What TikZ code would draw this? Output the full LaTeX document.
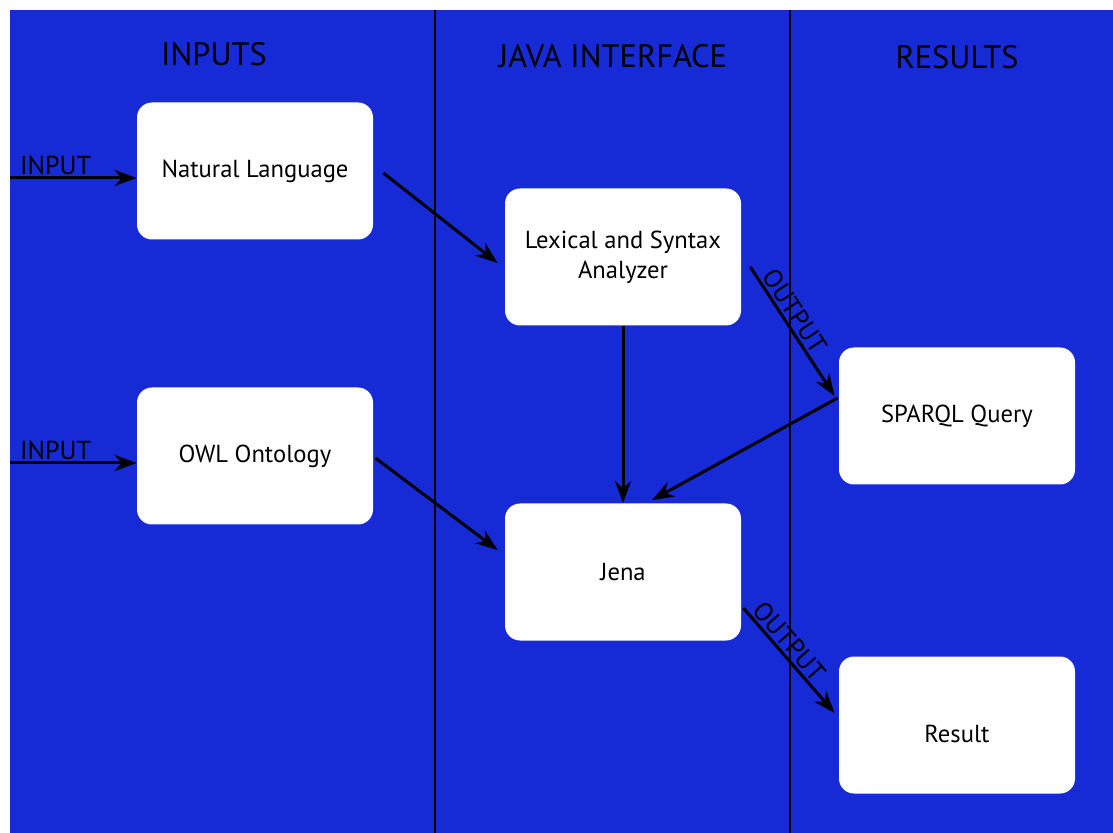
\documentclass[tikz,border=0pt]{standalone}
\usepackage{fontspec}
\setmainfont{PT Sans}
\usetikzlibrary{arrows.meta}
\definecolor{bgblue}{RGB}{22,42,214}

\begin{document}
\begin{tikzpicture}[x=0.5pt,y=-0.5pt,
  box/.style={draw=none,fill=white,rounded corners=7.5pt,minimum width=118pt,minimum height=68.5pt,inner sep=2pt,align=center,font=\fontsize{12.3}{15}\selectfont},
  arr/.style={line width=1.5pt,-{Stealth[length=11pt,width=8pt,inset=3.5pt]}},
  lbl/.style={inner sep=0.75pt,font=\fontsize{13}{14}\selectfont},
  ttl/.style={inner sep=0.75pt,font=\fontsize{16.2}{18}\selectfont}]

\useasboundingbox (0,0) rectangle (1113,833);
\fill [bgblue] (10,10) rectangle (1113,833);
\draw [line width=0.7pt]  (435,10) -- (435,833);
\draw [line width=0.7pt]  (790,10) -- (790,833);

% Titles
\node [ttl] (tin) at (214,54) {INPUTS};
\node [ttl] (tjava) at (613,56) {JAVA INTERFACE};
\node [ttl] (tres) at (957,57) {RESULTS};

% Boxes
\node [box] (nl) at (255,171) {Natural Language};
\node [box] (owl) at (255,456) {OWL Ontology};
\node [box] (lex) at (623,257) {Lexical and Syntax\\Analyzer};
\node [box] (jena) at (623,572) {Jena};
\node [box] (sparql) at (957,416) {SPARQL Query};
\node [box,text height=17.5pt] (res) at (957,725) {Result};

% Inputs
\coordinate (in1) at (10,178);
\coordinate (in2) at (10,463);
\draw [arr] (in1) -- ([yshift=-3.5pt]nl.west) node [lbl,pos=0.36,above] {INPUT};
\draw [arr] (in2) -- ([yshift=-3.5pt]owl.west) node [lbl,pos=0.36,above] {INPUT};

% Connectors
\draw [arr] ([xshift=5pt,yshift=-1pt]nl.east) -- ([xshift=-3.5pt,yshift=-3pt]lex.west);
\draw [arr] ([xshift=1pt,yshift=-1pt]owl.east) -- ([xshift=-3.5pt,yshift=11pt]jena.west);
\draw [arr] (lex.south) -- (jena.north);
\draw [arr] ([xshift=4.5pt,yshift=-5pt]lex.east) -- ([xshift=-2pt,yshift=10pt]sparql.west)
  node [lbl,pos=0.4,above,sloped,yshift=0.5pt] {OUTPUT};
\draw [arr] ([xshift=-0.5pt,yshift=9pt]sparql.west) -- ([xshift=14.5pt,yshift=1.5pt]jena.north);
\draw [arr] ([xshift=1pt,yshift=-18pt]jena.east) -- ([xshift=-2pt,yshift=6pt]res.west)
  node [lbl,pos=0.4,above,sloped,yshift=0.5pt] {OUTPUT};

\end{tikzpicture}
\end{document}
